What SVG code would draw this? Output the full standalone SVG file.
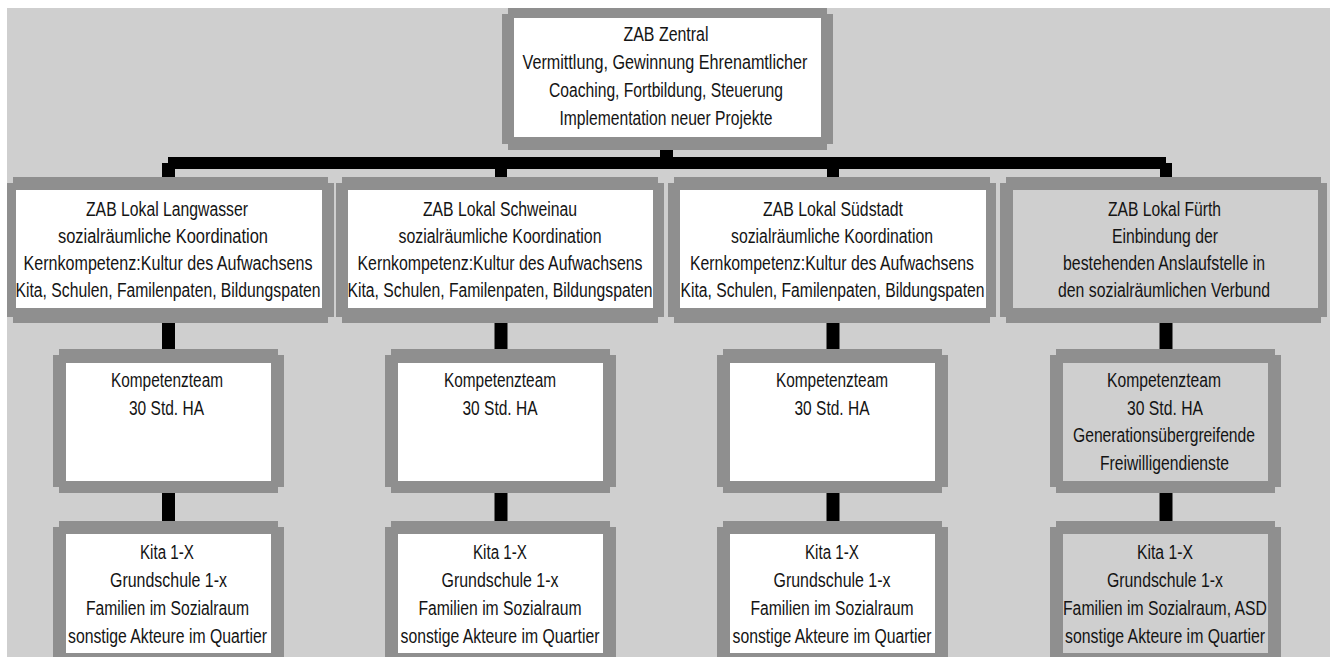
<svg xmlns="http://www.w3.org/2000/svg" width="1330" height="657" viewBox="0 0 1330 657">
<style>
.frame{fill:#8f8f8f}
.in{fill:#ffffff}
.ing{fill:#cfcfcf}
.t{font-family:"Liberation Sans Narrow","Liberation Sans",Arial,sans-serif;font-size:19.5px;fill:#141414;text-anchor:middle}
.ts{font-size:16px}
.c{stroke:#000;stroke-width:13;fill:none}
</style>
<rect x="0" y="0" width="1330" height="657" fill="#ffffff"/>
<rect x="7" y="8" width="1323" height="649" fill="#cfcfcf"/>
<g id="connectors">
<rect x="660" y="150" width="13" height="9" fill="#000"/>
<path d="M168,157 H1166 V163 H1172 V177 H1160 V169 H175 V177 H162 V163 H168 Z" fill="#000"/>
<rect x="495" y="168" width="12" height="9" fill="#000"/>
<rect x="827" y="168" width="12" height="9" fill="#000"/>
<line class="c" x1="168.5" y1="322" x2="168.5" y2="350"/>
<line class="c" x1="501" y1="322" x2="501" y2="350"/>
<line class="c" x1="833" y1="322" x2="833" y2="350"/>
<line class="c" x1="1166" y1="322" x2="1166" y2="350"/>
<line class="c" x1="168.5" y1="492" x2="168.5" y2="522"/>
<line class="c" x1="501" y1="492" x2="501" y2="522"/>
<line class="c" x1="833" y1="492" x2="833" y2="522"/>
<line class="c" x1="1166" y1="492" x2="1166" y2="522"/>
</g>
<g id="zentral">
<path class="frame" d="M508,8 H827 V14 H833 V144 H827 V150 H508 V144 H502 V14 H508 Z"/>
<rect class="in" x="514" y="18" width="307" height="119"/>
<text class="t" x="666" y="41" textLength="85" lengthAdjust="spacingAndGlyphs">ZAB Zentral</text>
<text class="t" x="665" y="69" textLength="285" lengthAdjust="spacingAndGlyphs">Vermittlung, Gewinnung Ehrenamtlicher</text>
<text class="t" x="666" y="97" textLength="234" lengthAdjust="spacingAndGlyphs">Coaching, Fortbildung, Steuerung</text>
<text class="t" x="666" y="125" textLength="213" lengthAdjust="spacingAndGlyphs">Implementation neuer Projekte</text>
</g>
<g id="lokal-langwasser">
<path class="frame" d="M13,177 H328 V183 H334 V317 H328 V323 H13 V317 H7 V183 H13 Z"/>
<rect class="in" x="16" y="190" width="306" height="118"/>
<text class="t" x="167" y="216" textLength="162" lengthAdjust="spacingAndGlyphs">ZAB Lokal Langwasser</text>
<text class="t" x="163" y="243" textLength="210" lengthAdjust="spacingAndGlyphs">sozialräumliche Koordination</text>
<text class="t" x="168" y="270" textLength="289" lengthAdjust="spacingAndGlyphs">Kernkompetenz:Kultur des Aufwachsens</text>
<text class="t ts" transform="translate(168,297) scale(1,1.22)" x="0" y="0" textLength="305" lengthAdjust="spacingAndGlyphs">Kita, Schulen, Familenpaten, Bildungspaten</text>
</g>
<g id="lokal-schweinau">
<path class="frame" d="M342,177 H658 V183 H664 V317 H658 V323 H342 V317 H336 V183 H342 Z"/>
<rect class="in" x="348" y="190" width="305" height="118"/>
<text class="t" x="500" y="216" textLength="154" lengthAdjust="spacingAndGlyphs">ZAB Lokal Schweinau</text>
<text class="t" x="500" y="243" textLength="203" lengthAdjust="spacingAndGlyphs">sozialräumliche Koordination</text>
<text class="t" x="500" y="270" textLength="285" lengthAdjust="spacingAndGlyphs">Kernkompetenz:Kultur des Aufwachsens</text>
<text class="t ts" transform="translate(500,297) scale(1,1.22)" x="0" y="0" textLength="305" lengthAdjust="spacingAndGlyphs">Kita, Schulen, Familenpaten, Bildungspaten</text>
</g>
<g id="lokal-suedstadt">
<path class="frame" d="M674,177 H990 V183 H996 V317 H990 V323 H674 V317 H668 V183 H674 Z"/>
<rect class="in" x="680" y="190" width="306" height="118"/>
<text class="t" x="833" y="216" textLength="140" lengthAdjust="spacingAndGlyphs">ZAB Lokal Südstadt</text>
<text class="t" x="832" y="243" textLength="202" lengthAdjust="spacingAndGlyphs">sozialräumliche Koordination</text>
<text class="t" x="832" y="270" textLength="284" lengthAdjust="spacingAndGlyphs">Kernkompetenz:Kultur des Aufwachsens</text>
<text class="t ts" transform="translate(832.5,297) scale(1,1.22)" x="0" y="0" textLength="304" lengthAdjust="spacingAndGlyphs">Kita, Schulen, Familenpaten, Bildungspaten</text>
</g>
<g id="lokal-fuerth">
<path class="frame" d="M1006,177 H1321 V183 H1327 V317 H1321 V323 H1006 V317 H1000 V183 H1006 Z"/>
<rect class="ing" x="1013" y="190" width="305" height="118"/>
<text class="t" x="1164.5" y="216" textLength="113" lengthAdjust="spacingAndGlyphs">ZAB Lokal Fürth</text>
<text class="t" x="1165" y="243" textLength="106" lengthAdjust="spacingAndGlyphs">Einbindung der</text>
<text class="t" x="1164" y="270" textLength="202" lengthAdjust="spacingAndGlyphs">bestehenden Anslaufstelle in</text>
<text class="t" x="1164" y="297" textLength="212" lengthAdjust="spacingAndGlyphs">den sozialräumlichen Verbund</text>
</g>
<g id="team-langwasser">
<path class="frame" d="M59,349 H278 V355 H284 V487 H278 V493 H59 V487 H53 V355 H59 Z"/>
<rect class="in" x="66" y="363" width="205" height="118"/>
<text class="t" x="167" y="387" textLength="112" lengthAdjust="spacingAndGlyphs">Kompetenzteam</text>
<text class="t" x="166.5" y="415" textLength="75" lengthAdjust="spacingAndGlyphs">30 Std. HA</text>
</g>
<g id="team-schweinau">
<path class="frame" d="M391,349 H610 V355 H616 V487 H610 V493 H391 V487 H385 V355 H391 Z"/>
<rect class="in" x="398" y="363" width="205" height="118"/>
<text class="t" x="500" y="387" textLength="112" lengthAdjust="spacingAndGlyphs">Kompetenzteam</text>
<text class="t" x="500" y="415" textLength="75" lengthAdjust="spacingAndGlyphs">30 Std. HA</text>
</g>
<g id="team-suedstadt">
<path class="frame" d="M723,349 H942 V355 H948 V487 H942 V493 H723 V487 H717 V355 H723 Z"/>
<rect class="in" x="730" y="363" width="205" height="118"/>
<text class="t" x="832" y="387" textLength="112" lengthAdjust="spacingAndGlyphs">Kompetenzteam</text>
<text class="t" x="832" y="415" textLength="75" lengthAdjust="spacingAndGlyphs">30 Std. HA</text>
</g>
<g id="team-fuerth">
<path class="frame" d="M1056,349 H1275 V355 H1281 V487 H1275 V493 H1056 V487 H1050 V355 H1056 Z"/>
<rect class="ing" x="1063" y="363" width="205" height="118"/>
<text class="t" x="1164" y="387" textLength="114" lengthAdjust="spacingAndGlyphs">Kompetenzteam</text>
<text class="t" x="1165" y="415" textLength="76" lengthAdjust="spacingAndGlyphs">30 Std. HA</text>
<text class="t" x="1164" y="442" textLength="182" lengthAdjust="spacingAndGlyphs">Generationsübergreifende</text>
<text class="t" x="1164.5" y="470" textLength="129" lengthAdjust="spacingAndGlyphs">Freiwilligendienste</text>
</g>
<g id="kita-langwasser">
<path class="frame" d="M59,521 H278 V527 H284 V666 H53 V527 H59 Z"/>
<rect class="in" x="66" y="534" width="205" height="119"/>
<text class="t" x="167" y="559" textLength="54" lengthAdjust="spacingAndGlyphs">Kita 1-X</text>
<text class="t" x="168.5" y="587" textLength="117" lengthAdjust="spacingAndGlyphs">Grundschule 1-x</text>
<text class="t" x="167.5" y="615" textLength="163" lengthAdjust="spacingAndGlyphs">Familien im Sozialraum</text>
<text class="t" x="167.5" y="643" textLength="199" lengthAdjust="spacingAndGlyphs">sonstige Akteure im Quartier</text>
</g>
<g id="kita-schweinau">
<path class="frame" d="M391,521 H610 V527 H616 V666 H385 V527 H391 Z"/>
<rect class="in" x="398" y="534" width="205" height="119"/>
<text class="t" x="500" y="559" textLength="54" lengthAdjust="spacingAndGlyphs">Kita 1-X</text>
<text class="t" x="500" y="587" textLength="117" lengthAdjust="spacingAndGlyphs">Grundschule 1-x</text>
<text class="t" x="500" y="615" textLength="163" lengthAdjust="spacingAndGlyphs">Familien im Sozialraum</text>
<text class="t" x="500" y="643" textLength="199" lengthAdjust="spacingAndGlyphs">sonstige Akteure im Quartier</text>
</g>
<g id="kita-suedstadt">
<path class="frame" d="M723,521 H942 V527 H948 V666 H717 V527 H723 Z"/>
<rect class="in" x="730" y="534" width="205" height="119"/>
<text class="t" x="832" y="559" textLength="54" lengthAdjust="spacingAndGlyphs">Kita 1-X</text>
<text class="t" x="832" y="587" textLength="117" lengthAdjust="spacingAndGlyphs">Grundschule 1-x</text>
<text class="t" x="832" y="615" textLength="163" lengthAdjust="spacingAndGlyphs">Familien im Sozialraum</text>
<text class="t" x="832" y="643" textLength="199" lengthAdjust="spacingAndGlyphs">sonstige Akteure im Quartier</text>
</g>
<g id="kita-fuerth">
<path class="frame" d="M1056,521 H1275 V527 H1281 V666 H1050 V527 H1056 Z"/>
<rect class="ing" x="1063" y="534" width="205" height="119"/>
<text class="t" x="1165" y="559" textLength="56" lengthAdjust="spacingAndGlyphs">Kita 1-X</text>
<text class="t" x="1165" y="587" textLength="116" lengthAdjust="spacingAndGlyphs">Grundschule 1-x</text>
<text class="t" x="1165" y="615" textLength="204" lengthAdjust="spacingAndGlyphs">Familien im Sozialraum, ASD</text>
<text class="t" x="1165" y="643" textLength="200" lengthAdjust="spacingAndGlyphs">sonstige Akteure im Quartier</text>
</g>
</svg>
